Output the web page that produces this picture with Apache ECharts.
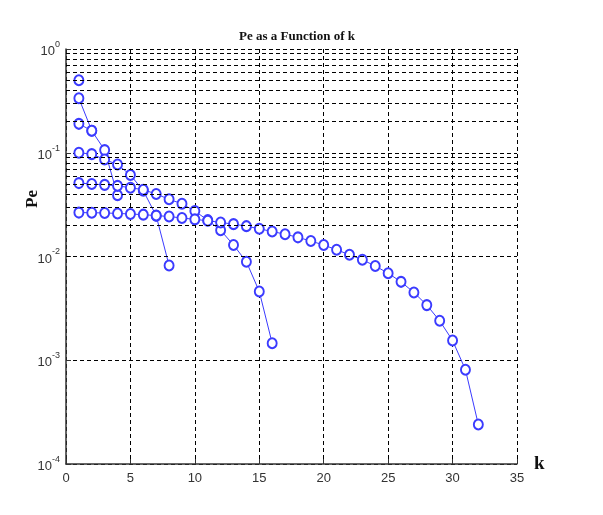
<!DOCTYPE html>
<html>
<head>
<meta charset="utf-8">
<title>Pe as a Function of k</title>
<style>
  * { margin: 0; padding: 0; }
  body { background: #fff; }
  #chart-container { width: 603px; height: 515px; }
</style>
</head>
<body>
<div id="chart-container"></div>
<script src="https://cdn.jsdelivr.net/npm/echarts@6/dist/echarts.min.js"></script>
<script>
// Pe values, one array per curve (k = 1 .. length)
var pe1 = [0.5];
var pe2 = [0.335, 0.163];
var pe4 = [0.19, 0.163, 0.106, 0.039];
var pe8 = [0.1, 0.097, 0.086, 0.077, 0.061, 0.043, 0.0247, 0.0082];
var pe16 = [0.051, 0.050, 0.049, 0.048, 0.046, 0.044, 0.040, 0.0356,
            0.0322, 0.0274, 0.0224, 0.0179, 0.0129, 0.0089, 0.0046, 0.00146];
var pe32 = [0.0265, 0.0264, 0.0263, 0.026, 0.0257, 0.0253, 0.0248, 0.0243,
            0.0235, 0.0228, 0.0221, 0.0213, 0.0205, 0.0196, 0.0185, 0.0174,
            0.0164, 0.0153, 0.0141, 0.0129, 0.0116, 0.0104, 0.0093, 0.0081,
            0.0069, 0.0057, 0.0045, 0.0034, 0.0024, 0.00155, 0.00081, 0.00024];
var curves = [pe1, pe2, pe4, pe8, pe16, pe32];

// minor log grid lines (2..9 in every decade)
var minorGrid = [];
[0.0001, 0.001, 0.01, 0.1].forEach(function (d) {
  for (var m = 2; m <= 9; m++) minorGrid.push(+(m * d).toPrecision(3));
});

var dom = document.getElementById('chart-container');
var myChart = echarts.init(dom, null, { renderer: 'canvas' });

var lineColor = '#3b3bff';
var gridStyle = { color: '#000', width: 1, type: [4, 3] };

var series = curves.map(function (arr) {
  return {
    type: 'line',
    z: 3,
    symbol: 'emptyCircle',
    symbolSize: [9, 10],
    showAllSymbol: true,
    animation: false,
    lineStyle: { color: lineColor, width: 1 },
    itemStyle: { color: lineColor, borderColor: lineColor, borderWidth: 0.8 },
    emphasis: { disabled: true },
    data: arr.map(function (v, i) { return [i + 1, v]; })
  };
});

// minor grid lines drawn as mark lines on an empty series
series.unshift({
  type: 'line',
  z: 1,
  data: [],
  silent: true,
  animation: false,
  markLine: {
    silent: true,
    symbol: 'none',
    label: { show: false },
    lineStyle: gridStyle,
    animation: false,
    data: minorGrid.map(function (v) { return { yAxis: v }; })
  }
});

var option = {
  backgroundColor: '#fff',
  animation: false,
  title: {
    text: 'Pe as a Function of k',
    left: 292,
    top: 25,
    textAlign: 'center',
    textStyle: {
      fontFamily: 'Liberation Serif',
      fontWeight: 'bold',
      fontSize: 13,
      color: '#111'
    }
  },
  grid: { left: 66, right: 86, top: 49, bottom: 51 },
  xAxis: {
    type: 'value',
    min: 0,
    max: 35,
    interval: 5,
    name: 'k',
    nameLocation: 'end',
    nameGap: 17,
    nameTextStyle: {
      fontFamily: 'Liberation Serif',
      fontWeight: 'bold',
      fontSize: 19,
      color: '#111',
      padding: [0, 0, 10, 0]
    },
    axisLine: { lineStyle: { color: '#333', width: 1.5 } },
    axisTick: { inside: true, length: 5, lineStyle: { color: '#333' } },
    axisLabel: {
      fontFamily: 'Liberation Sans Narrow, Liberation Sans',
      fontSize: 13,
      color: '#333',
      margin: 8
    },
    splitLine: { show: true, lineStyle: gridStyle }
  },
  yAxis: {
    type: 'log',
    logBase: 10,
    min: 0.0001,
    max: 1,
    splitNumber: 4,
    axisLine: { show: true, lineStyle: { color: '#333', width: 1.5 } },
    axisTick: { show: true, inside: true, length: 5, lineStyle: { color: '#333' } },
    axisLabel: {
      margin: 6,
      formatter: function (v) {
        return '{b|10}{e|' + Math.round(Math.log10(v)) + '}';
      },
      rich: {
        b: {
          fontFamily: 'Liberation Sans Narrow, Liberation Sans',
          fontSize: 13,
          color: '#333',
          lineHeight: 18,
          verticalAlign: 'bottom'
        },
        e: {
          fontFamily: 'Liberation Sans Narrow, Liberation Sans',
          fontSize: 9,
          color: '#333',
          lineHeight: 18,
          verticalAlign: 'top',
          padding: [0, 0, 10, 0]
        }
      }
    },
    splitLine: { show: true, lineStyle: gridStyle }
  },
  graphic: [{
    type: 'text',
    left: 24,
    top: 190,
    rotation: Math.PI / 2,
    style: {
      text: 'Pe',
      font: 'bold 17px "Liberation Serif"',
      fill: '#111'
    }
  }],
  series: series
};

myChart.setOption(option);
window.addEventListener('resize', myChart.resize);
</script>
</body>
</html>
